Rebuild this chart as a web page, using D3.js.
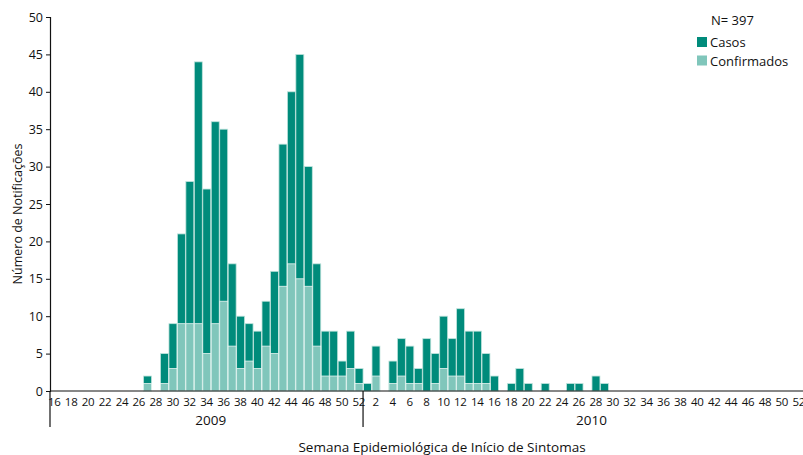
<!DOCTYPE html>
<html>
<head>
<meta charset="utf-8">
<script src="https://cdn.jsdelivr.net/npm/d3@7"></script>
<style>
  html, body { margin: 0; padding: 0; background: #fff; }
  svg { display: block; font-family: "Open Sans", "Noto Sans", sans-serif; }
</style>
</head>
<body>
<svg id="chart" width="803" height="455"></svg>
<script>
// Epidemiological weeks shown on the axis (2009 from week 16, all of 2010)
const weeks2009 = [16,17,18,19,20,21,22,23,24,25,26,27,28,29,30,31,32,33,34,35,36,37,38,39,40,41,42,43,44,45,46,47,48,49,50,51,52];
const weeks2010 = [1,2,3,4,5,6,7,8,9,10,11,12,13,14,15,16,17,18,19,20,21,22,23,24,25,26,27,28,29,30,31,32,33,34,35,36,37,38,39,40,41,42,43,44,45,46,47,48,49,50,51,52];

// Notified cases per week
const casos2009 = [0,0,0,0,0,0,0,0,0,0,0,2,0,5,9,21,28,44,27,36,35,17,10,9,8,12,16,33,40,45,30,17,8,8,4,8,3];
const casos2010 = [1,6,0,4,7,6,3,7,5,10,7,11,8,8,5,2,0,1,3,1,0,1,0,0,1,1,0,2,1,0,0,0,0,0,0,0,0,0,0,0,0,0,0,0,0,0,0,0,0,0,0,0];

// Confirmed cases per week
const confirmados2009 = [0,0,0,0,0,0,0,0,0,0,0,1,0,1,3,9,9,9,5,9,12,6,3,4,3,6,5,14,17,15,14,6,2,2,2,3,1];
const confirmados2010 = [0,2,0,1,2,1,1,0,1,3,2,2,1,1,1,0,0,0,0,0,0,0,0,0,0,0,0,0,0,0,0,0,0,0,0,0,0,0,0,0,0,0,0,0,0,0,0,0,0,0,0,0];

const yTicks = [0,5,10,15,20,25,30,35,40,45,50];
const years = ["2009", "2010"];
const totalLabel = "N= 397";
const seriesNames = ["Casos", "Confirmados"];

const colorCasos = "#008b7b";
const colorConf = "#80c6bb";

// Build one row per week
const rows = [];
weeks2009.forEach((w, i) => rows.push({ key: "2009-" + w, week: w, year: "2009", casos: casos2009[i], conf: confirmados2009[i] }));
weeks2010.forEach((w, i) => rows.push({ key: "2010-" + w, week: w, year: "2010", casos: casos2010[i], conf: confirmados2010[i] }));

const svg = d3.select("#chart");
const plotLeft = 50, plotRight = 803, plotTop = 17, plotBottom = 391;

const x = d3.scaleBand().domain(rows.map(d => d.key)).range([plotLeft, plotRight]).padding(0);
const y = d3.scaleLinear().domain([0, 50]).range([plotBottom, plotTop]);

// Bars: total notifications, then confirmed over the lower part
const bars = svg.append("g");
bars.selectAll("rect.casos")
  .data(rows.filter(d => d.casos > 0))
  .join("rect")
  .attr("class", "casos")
  .attr("x", d => x(d.key) + 0.5)
  .attr("y", d => y(d.casos))
  .attr("width", x.bandwidth() - 0.5)
  .attr("height", d => y(0) - y(d.casos))
  .attr("fill", colorCasos)
  .attr("stroke", "#bfe3dc")
  .attr("stroke-width", 0.8);

bars.selectAll("rect.conf")
  .data(rows.filter(d => d.conf > 0))
  .join("rect")
  .attr("class", "conf")
  .attr("x", d => x(d.key) + 0.5)
  .attr("y", d => y(d.conf))
  .attr("width", x.bandwidth() - 0.5)
  .attr("height", d => y(0) - y(d.conf))
  .attr("fill", colorConf)
  .attr("stroke", "#e4f4f1")
  .attr("stroke-width", 0.8);

// Y axis
const yAxis = svg.append("g")
  .attr("transform", `translate(${plotLeft},0)`)
  .call(d3.axisLeft(y).tickValues(yTicks).tickSize(4).tickPadding(3));
yAxis.select(".domain").attr("stroke", "#111").attr("stroke-width", 1.2);
yAxis.selectAll(".tick line").attr("stroke", "#111");
yAxis.selectAll(".tick text")
  .attr("font-family", "'Open Sans', sans-serif")
  .attr("font-size", 12.5)
  .attr("fill", "#111");

// X axis: every second week labelled
const xAxis = svg.append("g")
  .attr("transform", `translate(0,${plotBottom})`)
  .call(d3.axisBottom(x)
    .tickValues(rows.filter(d => d.week % 2 === 0).map(d => d.key))
    .tickFormat(k => k.split("-")[1])
    .tickSize(0).tickPadding(7));
xAxis.select(".domain").attr("stroke", "#111").attr("stroke-width", 1.2).attr("d", `M${plotLeft},0H${plotRight}`);
xAxis.selectAll(".tick text")
  .attr("font-family", "'Open Sans', sans-serif")
  .attr("font-size", 11.5)
  .attr("letter-spacing", "-0.3")
  .attr("fill", "#111");

// Year separators and labels
const sepX = [plotLeft, x("2010-1")];
svg.selectAll("line.sep")
  .data(sepX)
  .join("line")
  .attr("class", "sep")
  .attr("x1", d => d).attr("x2", d => d)
  .attr("y1", plotBottom).attr("y2", 427)
  .attr("stroke", "#111").attr("stroke-width", 1.2);

const yearMid = { "2009": x("2009-34") + x.bandwidth(), "2010": x("2010-27") + x.bandwidth() };
svg.selectAll("text.year")
  .data(years)
  .join("text")
  .attr("class", "year")
  .attr("x", d => yearMid[d])
  .attr("y", 425)
  .attr("text-anchor", "middle")
  .attr("font-size", 13.5)
  .attr("fill", "#111")
  .text(d => d);

// Axis titles
svg.append("text")
  .attr("x", 442).attr("y", 452)
  .attr("text-anchor", "middle")
  .attr("font-size", 13.5)
  .attr("fill", "#111")
  .text("Semana Epidemiológica de Início de Sintomas");

svg.append("text")
  .attr("transform", "translate(22,214) rotate(-90)")
  .attr("text-anchor", "middle")
  .attr("font-size", 12.5)
  .attr("fill", "#111")
  .text("Número de Notificações");

// Legend
const legend = svg.append("g").attr("transform", "translate(697,0)");
legend.append("text")
  .attr("x", 14).attr("y", 25)
  .attr("font-size", 13)
  .attr("fill", "#111")
  .text(totalLabel);
const items = legend.selectAll("g.item")
  .data(seriesNames)
  .join("g")
  .attr("class", "item")
  .attr("transform", (d, i) => `translate(0,${37 + i * 18.5})`);
items.append("rect")
  .attr("width", 10).attr("height", 10)
  .attr("fill", (d, i) => i === 0 ? colorCasos : colorConf);
items.append("text")
  .attr("x", 13).attr("y", 10)
  .attr("font-size", 13)
  .attr("fill", "#111")
  .text(d => d);
</script>
</body>
</html>
